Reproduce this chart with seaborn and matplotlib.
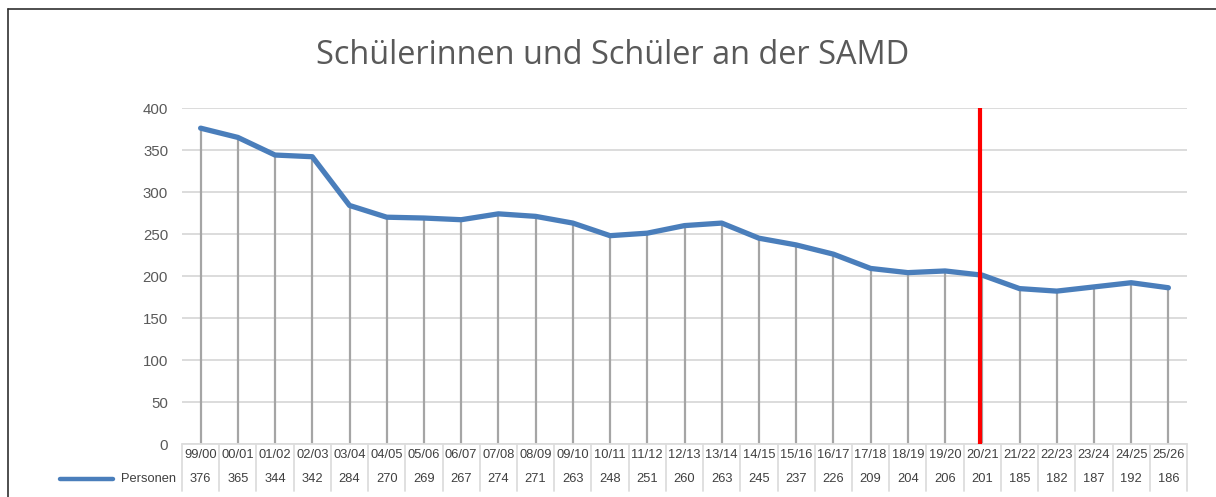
import numpy as np
import pandas as pd
import matplotlib
matplotlib.use("Agg")
import matplotlib.pyplot as plt
import matplotlib.transforms as mtransforms
from matplotlib.lines import Line2D
import seaborn as sns

categories = ["99/00", "00/01", "01/02", "02/03", "03/04", "04/05", "05/06", "06/07",
              "07/08", "08/09", "09/10", "10/11", "11/12", "12/13", "13/14", "14/15",
              "15/16", "16/17", "17/18", "18/19", "19/20", "20/21", "21/22", "22/23",
              "23/24", "24/25", "25/26"]
personen = [376, 365, 344, 342, 284, 270, 269, 267, 274, 271, 263, 248, 251, 260, 263,
            245, 237, 226, 209, 204, 206, 201, 185, 182, 187, 192, 186]
marker_category = "20/21"
series_name = "Personen"
title = "Schülerinnen und Schüler an der SAMD"
yticks = [0, 50, 100, 150, 200, 250, 300, 350, 400]

sns.set_theme(style="white")
plt.rcParams['font.family'] = ['Liberation Sans', 'DejaVu Sans']

W, H = 1216, 497
fig = plt.figure(figsize=(W / 100, H / 100), dpi=100)
x0, x1, ytop, ybot = 182, 1187, 108, 444
ax = fig.add_axes([x0 / W, (H - ybot) / H, (x1 - x0) / W, (ybot - ytop) / H])

df = pd.DataFrame({"pos": np.arange(len(categories)), "Personen": personen})
n = len(categories)

line_color = "#4A7EBB"
grid_color = "#D9D9D9"
text_color = "#595959"

# drop lines
ax.vlines(df["pos"], 0, df["Personen"], color="#A5A5A5", lw=1.6, zorder=2)
sns.lineplot(data=df, x="pos", y="Personen", ax=ax, color=line_color, lw=3.8,
             zorder=3, legend=False, solid_capstyle="round", solid_joinstyle="round")

# red marker line
mi = categories.index(marker_category)
ax.vlines([mi - 0.05], 0, 402, color="#FF0000", lw=3.0, zorder=4)

ax.set_xlim(-0.5, n - 0.5)
ax.set_ylim(0, 400)
ax.set_yticks(yticks)
ax.set_yticklabels([str(v) for v in yticks], color=text_color, fontsize=10.8)
ax.tick_params(axis="y", length=0, pad=10)
ax.set_xticks([])
ax.set_xlabel("")
ax.set_ylabel("")
for s in ax.spines.values():
    s.set_visible(False)
ax.yaxis.grid(True, color=grid_color, lw=1.3)
ax.set_axisbelow(True)
ax.patch.set_alpha(0)

# data table
tr = mtransforms.blended_transform_factory(ax.transData, fig.transFigure)
def fy(py):
    return 1 - py / H
r0, r1, r2 = 444, 467, 491
tcol = "#DDDDDD"
tlw = 1.3
tfs = 9.3
tcolor = "#404040"
ax.add_line(Line2D([-0.5, n - 0.5], [fy(r0), fy(r0)], transform=tr, color=tcol, lw=tlw, clip_on=False))
ax.add_line(Line2D([53 / W, x1 / W], [fy(r1), fy(r1)], transform=fig.transFigure, color=tcol, lw=tlw))
ax.add_line(Line2D([53 / W, 53 / W], [fy(r1), fy(r2)], transform=fig.transFigure, color=tcol, lw=tlw))
ax.add_line(Line2D([53 / W, x1 / W], [fy(r2), fy(r2)], transform=fig.transFigure, color=tcol, lw=tlw))
for b in np.arange(n + 1) - 0.5:
    ax.add_line(Line2D([b, b], [fy(r0), fy(r2)], transform=tr, color=tcol, lw=tlw, clip_on=False))
for i, (c, v) in enumerate(zip(categories, personen)):
    ax.text(i, fy((r0 + r1) / 2), c, transform=tr, ha="center", va="center",
            fontsize=tfs, color=tcolor)
    ax.text(i, fy((r1 + r2) / 2), str(v), transform=tr, ha="center", va="center",
            fontsize=tfs, color=tcolor)
# legend key in table
fig.add_artist(Line2D([60 / W, 113 / W], [fy(479), fy(479)], color=line_color, lw=3.2,
                      solid_capstyle="round"))
fig.text(176 / W, fy(479), series_name, ha="right", va="center", fontsize=tfs, color=tcolor)

# title
fig.text(613 / W, fy(56), title, ha="center", va="center", fontsize=23.4,
         color=text_color, family=["Open Sans", "DejaVu Sans"])

# chart frame
fig.add_artist(Line2D([7.5 / W, 7.5 / W], [0, fy(9)], color="#303030", lw=1.2))
fig.add_artist(Line2D([7.5 / W, 1], [fy(9), fy(9)], color="#303030", lw=1.2))

fig.savefig("out.png", dpi=100)
